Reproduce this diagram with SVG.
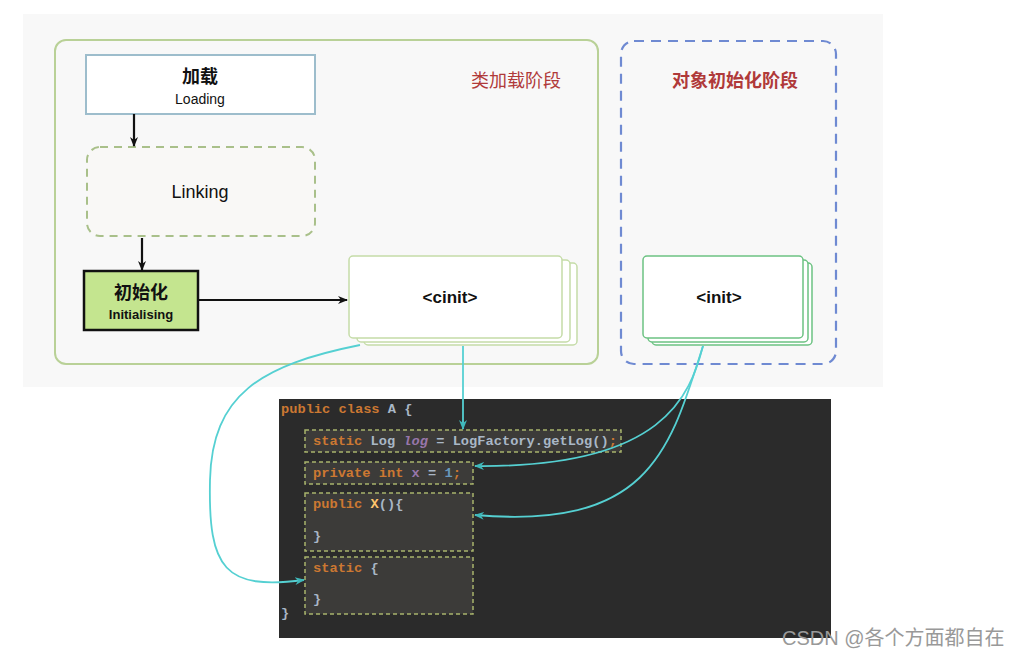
<svg xmlns="http://www.w3.org/2000/svg" width="1023" height="658" viewBox="0 0 1023 658">
<style>
.sans{font-family:"Liberation Sans","Noto Sans CJK SC",sans-serif}
.cjk{font-family:"Noto Sans CJK SC",sans-serif}
.mono{font-family:"Liberation Mono","DejaVu Sans Mono",monospace;font-size:13.7px;font-weight:bold}
.or{fill:#cc7832}.lt{fill:#a9b7c6}.pu{fill:#9876aa}.bl{fill:#6897bb}.ye{fill:#ffc66d}
.cbox{fill:#3c3b39;stroke:#a8b46c;stroke-width:1.5;stroke-dasharray:4 3}
.conn{fill:none;stroke:#55d0d2;stroke-width:1.8}
.blk{fill:none;stroke:#111;stroke-width:2.2}
</style>
<defs>
<marker id="ah" markerWidth="10" markerHeight="10" refX="9" refY="5" orient="auto" markerUnits="userSpaceOnUse"><path d="M0,1 L10,5 L0,9 L3,5 Z" fill="#111"/></marker>
<marker id="ac" markerWidth="10" markerHeight="10" refX="9" refY="5" orient="auto" markerUnits="userSpaceOnUse"><path d="M0,1 L10,5 L0,9 L3,5 Z" fill="#3fb8ba"/></marker>
</defs>
<rect width="1023" height="658" fill="#ffffff"/>
<rect x="23" y="14" width="860" height="373" fill="#f8f8f8"/>
<g id="class-stage">
<rect x="55" y="40" width="543" height="324" rx="11" fill="#f8f8f8" stroke="#b9d197" stroke-width="2"/>
<text x="516" y="87" class="cjk" font-size="18" fill="#b03a3a" text-anchor="middle">类加载阶段</text>
</g>
<g id="object-stage">
<rect x="621" y="41" width="215" height="323" rx="13" fill="#f8f8f8" stroke="#6f8ad2" stroke-width="2.2" stroke-dasharray="10 7"/>
<text x="735" y="87" class="cjk" font-size="18" font-weight="bold" fill="#b03a3a" text-anchor="middle">对象初始化阶段</text>
</g>
<g id="loading">
<rect x="86" y="55" width="229" height="59" fill="#ffffff" stroke="#9dbdcc" stroke-width="2"/>
<text x="200" y="83" class="cjk" font-size="18" font-weight="bold" fill="#111" text-anchor="middle">加载</text>
<text x="200" y="104" class="sans" font-size="14" fill="#111" text-anchor="middle">Loading</text>
</g>
<g id="linking">
<rect x="87" y="147" width="228" height="89" rx="13" fill="#f9f8f6" stroke="#a9c08a" stroke-width="2" stroke-dasharray="8 6"/>
<text x="200" y="198" class="sans" font-size="18" fill="#111" text-anchor="middle">Linking</text>
</g>
<g id="initialising">
<rect x="84" y="271" width="114" height="59" fill="#c4e58f" stroke="#111" stroke-width="2.5"/>
<text x="141" y="299" class="cjk" font-size="18" font-weight="bold" fill="#111" text-anchor="middle">初始化</text>
<text x="141" y="319" class="sans" font-size="13" font-weight="bold" fill="#111" text-anchor="middle">Initialising</text>
</g>
<g id="cinit">
<rect x="364" y="263" width="213" height="82" rx="4" fill="#ffffff" stroke="#c5dca8" stroke-width="1.5"/>
<rect x="357" y="260" width="213" height="82" rx="4" fill="#ffffff" stroke="#c5dca8" stroke-width="1.5"/>
<rect x="349" y="256" width="213" height="82" rx="4" fill="#ffffff" stroke="#c5dca8" stroke-width="1.5"/>
<text x="450" y="303" class="sans" font-size="17" font-weight="bold" fill="#111" text-anchor="middle">&lt;cinit&gt;</text>
</g>
<g id="init">
<rect x="652" y="263" width="160" height="82" rx="4" fill="#ffffff" stroke="#6cc282" stroke-width="1.5"/>
<rect x="648" y="260" width="160" height="82" rx="4" fill="#ffffff" stroke="#6cc282" stroke-width="1.5"/>
<rect x="643" y="256" width="160" height="82" rx="4" fill="#ffffff" stroke="#6cc282" stroke-width="1.5"/>
<text x="719" y="303" class="sans" font-size="17" font-weight="bold" fill="#111" text-anchor="middle">&lt;init&gt;</text>
</g>
<g id="code">
<rect x="279" y="399" width="552" height="239" fill="#2b2b2b"/>
<text x="281" y="413" class="mono"><tspan class="or">public class </tspan><tspan class="lt">A {</tspan></text>
<rect x="305" y="430" width="316" height="22" class="cbox"/>
<text x="313" y="445" class="mono"><tspan class="or">static </tspan><tspan class="lt">Log </tspan><tspan class="pu" font-style="italic">log</tspan><tspan class="lt"> = LogFactory.getLog()</tspan><tspan class="or">;</tspan></text>
<rect x="305" y="462" width="168" height="22" class="cbox"/>
<text x="313" y="477" class="mono"><tspan class="or">private int </tspan><tspan class="pu">x</tspan><tspan class="lt"> = </tspan><tspan class="bl">1</tspan><tspan class="or">;</tspan></text>
<rect x="305" y="493" width="168" height="58" class="cbox"/>
<text x="313" y="508" class="mono"><tspan class="or">public </tspan><tspan class="ye">X</tspan><tspan class="lt">(){</tspan></text>
<text x="313" y="540" class="mono lt">}</text>
<rect x="305" y="557" width="168" height="57" class="cbox"/>
<text x="313" y="572" class="mono"><tspan class="or">static </tspan><tspan class="lt">{</tspan></text>
<text x="313" y="603" class="mono lt">}</text>
<text x="281" y="617" class="mono lt">}</text>
</g>
<g id="connectors">
<path d="M134,114 L134,146" class="blk" marker-end="url(#ah)"/>
<path d="M142,238 L142,270" class="blk" marker-end="url(#ah)"/>
<path d="M198,300 L347,300" class="blk" marker-end="url(#ah)"/>
<path d="M463,346 L463,429" class="conn" marker-end="url(#ac)"/>
<path d="M360,345 C260,365 212,395 210,480 C208,570 225,590 304,580" class="conn" marker-end="url(#ac)"/>
<path d="M703,346 C690,395 665,468 475,466" class="conn" marker-end="url(#ac)"/>
<path d="M703,346 C670,450 650,530 475,515" class="conn" marker-end="url(#ac)"/>
</g>
<text x="782" y="645" class="sans" font-size="20" fill="#999999">CSDN @各个方面都自在</text>
</svg>
